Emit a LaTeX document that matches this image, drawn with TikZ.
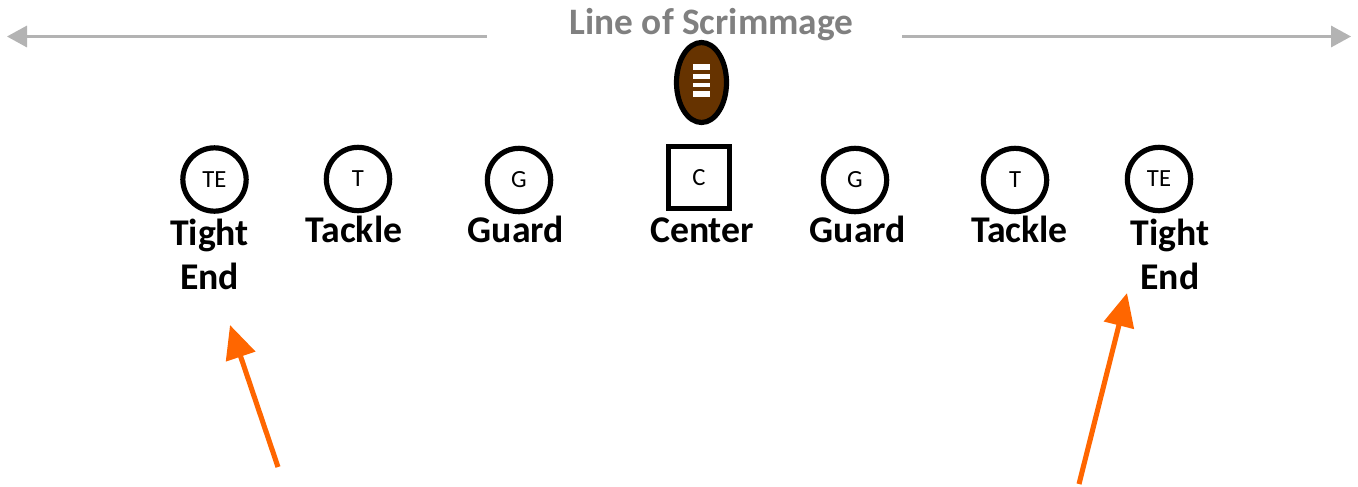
\documentclass[tikz,border=0pt]{standalone}
\usepackage{fontspec}
\setmainfont{Carlito}
\usetikzlibrary{arrows.meta,shapes.geometric}
\definecolor{ball}{HTML}{663300}
\definecolor{orangearrow}{HTML}{FF6600}
\definecolor{greyline}{HTML}{B3B3B3}
\definecolor{greytext}{HTML}{808080}
\tikzset{
  x=0.75pt,y=-0.75pt,
  player/.style={circle,draw=black,line width=3.9pt,minimum size=47.5pt,inner sep=0pt,font=\fontsize{18.5}{20}\selectfont},
  centerbox/.style={rectangle,draw=black,line width=3.9pt,minimum size=46pt,inner sep=0pt,font=\fontsize{18.5}{20}\selectfont},
  lbl/.style={font=\bfseries\fontsize{28.3}{33}\selectfont,align=center,inner sep=0pt,text=black},
  scrim/.style={draw=greyline,line width=1.7pt,-{Triangle[length=15pt,width=16pt]}},
  pointer/.style={draw=orangearrow,line width=3.8pt,-{Triangle[length=25pt,width=22.5pt]}},
  lace/.style={fill=white,draw=none}
}
\begin{document}
\begin{tikzpicture}
\useasboundingbox (0,0) rectangle (1358,486);
% line of scrimmage
\node[font=\bfseries\fontsize{28}{30}\selectfont,text=greytext,inner sep=0pt] (los) at (711.5,25) {Line of Scrimmage};
\coordinate (la) at (487,36.5); \coordinate (lb) at (7,36.5);
\coordinate (ra) at (902,36.5); \coordinate (rb) at (1351,36.5);
\draw[scrim] (la) -- (lb);
\draw[scrim] (ra) -- (rb);
% football
\node[ellipse,draw=black,fill=ball,line width=3.9pt,minimum width=37.5pt,minimum height=60pt,inner sep=0pt] (ball) at (701.5,82.5) {};
\fill[lace] (693,64) rectangle (710,69.5);
\fill[lace] (693,73.5) rectangle (710,78.5);
\fill[lace] (693,82.5) rectangle (710,87);
\fill[lace] (693,91) rectangle (710,97);
% players
\node[player] (te1) at (214.5,179.5) {TE};
\node[player] (t1) at (358,179) {T};
\node[player] (g1) at (519,180) {G};
\node[centerbox] (c) at (699,177.5) {C};
\node[player] (g2) at (855,180) {G};
\node[player] (t2) at (1015,180) {T};
\node[player] (te2) at (1159,179) {TE};
% labels
\node[lbl] (ltight1) at (209.5,254.5) {Tight\\End};
\node[lbl] (ltackle1) at (354,229) {Tackle};
\node[lbl] (lguard1) at (516,229) {Guard};
\node[lbl] (lcenter) at (702,230) {Center};
\node[lbl] (lguard2) at (858,229) {Guard};
\node[lbl] (ltackle2) at (1019.5,229) {Tackle};
\node[lbl] (ltight2) at (1170,254.5) {Tight\\End};
% orange arrows
\coordinate (o1a) at (278,467); \coordinate (o1b) at (230,325);
\coordinate (o2a) at (1079,484); \coordinate (o2b) at (1127,293);
\draw[pointer] (o1a) -- (o1b);
\draw[pointer] (o2a) -- (o2b);
\end{tikzpicture}
\end{document}
